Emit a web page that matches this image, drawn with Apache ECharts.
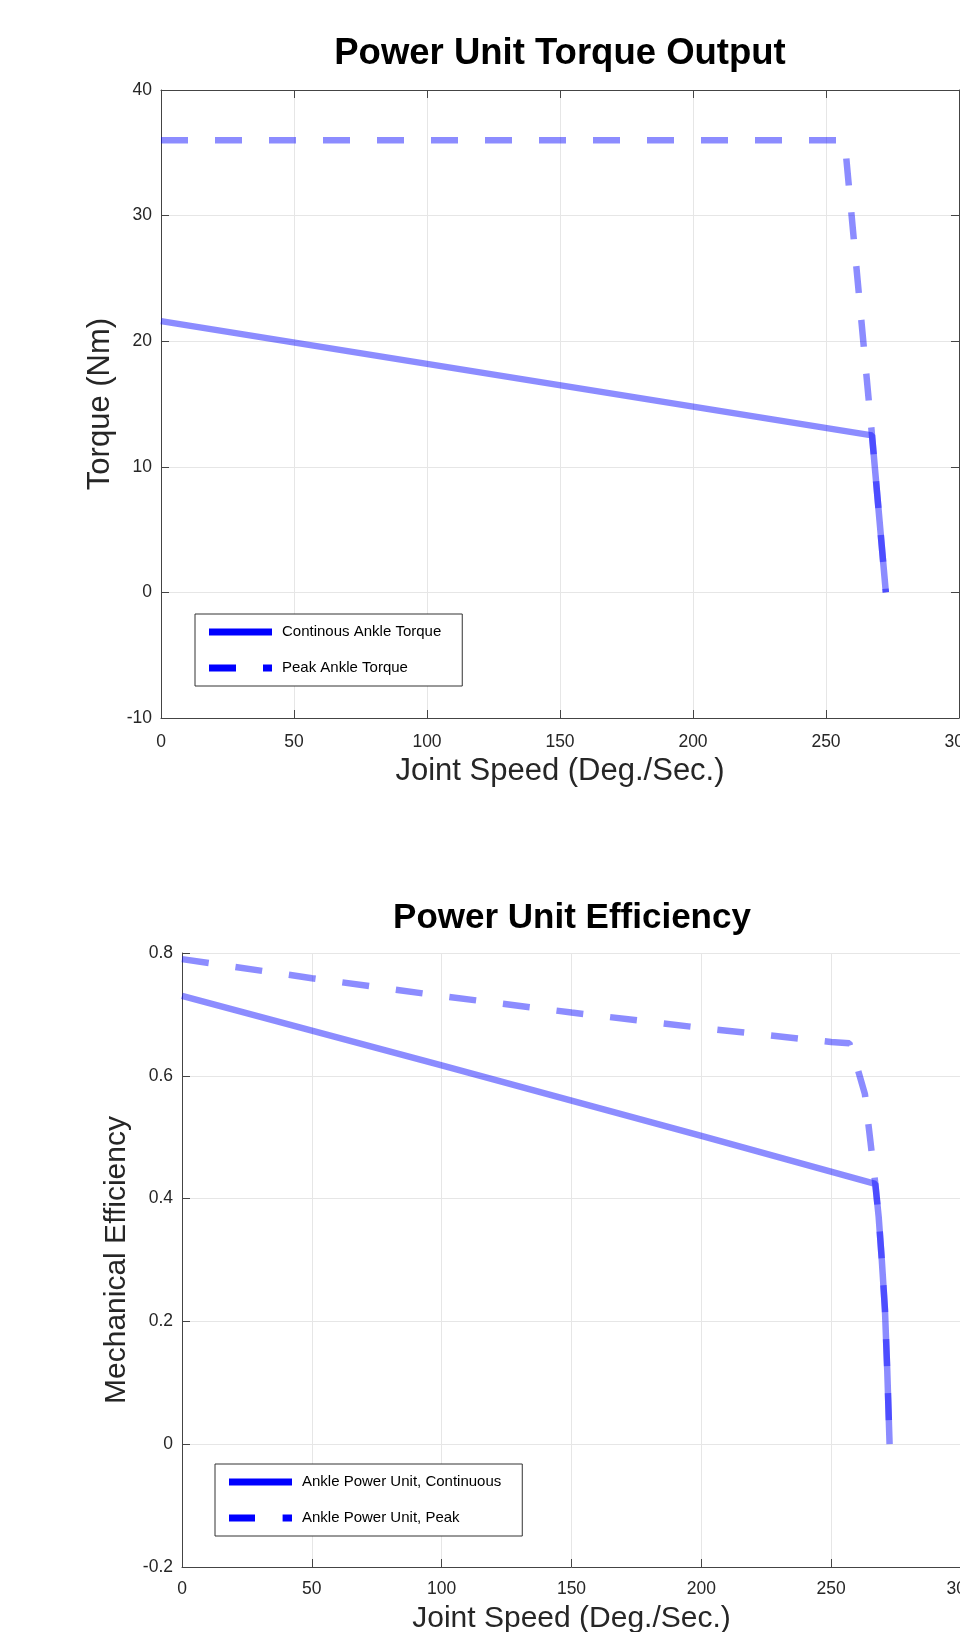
<!DOCTYPE html>
<html>
<head>
<meta charset="utf-8">
<script src="https://cdn.jsdelivr.net/npm/echarts@6/dist/echarts.min.js"></script>
<style>
  html, body { margin: 0; padding: 0; background: #fff; overflow: hidden; }
  #chart { width: 960px; height: 1632px; }
</style>
</head>
<body>
<div id="chart"></div>
<script>
// torque plot
var contTorqueSpeed = [0, 267.3, 272.5];
var contTorque = [21.6, 12.5, 0];
var peakTorqueSpeed = [0, 257, 267.3, 272.5];
var peakTorque = [36, 36, 12.5, 0];

// efficiency plot
var contEffSpeed = [0, 100, 200, 267, 268.3, 269.5, 270.7, 271.6, 272.5];
var contEff = [0.73, 0.617, 0.502, 0.424, 0.37, 0.3, 0.22, 0.12, 0];
var peakEffSpeed = [0, 50, 100, 150, 200, 250, 257, 259.8, 263, 265.2, 267, 268.3, 269.5, 270.7, 271.6, 272.5];
var peakEff = [0.79, 0.759, 0.73, 0.703, 0.678, 0.655, 0.653, 0.617, 0.57, 0.49, 0.424, 0.37, 0.3, 0.22, 0.12, 0];

var seriesNames = ['Continous Ankle Torque', 'Peak Ankle Torque', 'Ankle Power Unit, Continuous', 'Ankle Power Unit, Peak'];

var FONT = '"Liberation Sans", Arial, Helvetica, sans-serif';
var LINE = 'rgba(0,0,255,0.45)';
var AXIS = '#444';
var GRIDLINE = '#e6e6e6';

function pairs(xs, ys) {
    return xs.map((x, i) => [x, ys[i]]);
}

function mainX(gridIndex, labelMargin, nameGap, nameSize) {
    return {
        type: 'value', gridIndex: gridIndex, min: 0, max: 300, interval: 50,
        name: 'Joint Speed (Deg./Sec.)', nameLocation: 'middle', nameGap: nameGap,
        nameTextStyle: { fontFamily: FONT, fontSize: nameSize, color: '#262626' },
        axisLine: { show: true, onZero: false, lineStyle: { color: AXIS, width: 1 } },
        axisTick: { show: true, inside: true, length: 8, lineStyle: { color: AXIS } },
        axisLabel: { fontFamily: FONT, fontSize: 17.5, color: '#262626', margin: labelMargin },
        splitLine: { show: true, lineStyle: { color: GRIDLINE, width: 1 } }
    };
}

function mainY(gridIndex, min, max, interval, name, nameGap, nameSize, fmt) {
    return {
        type: 'value', gridIndex: gridIndex, min: min, max: max, interval: interval,
        name: name, nameLocation: 'middle', nameGap: nameGap,
        nameTextStyle: { fontFamily: FONT, fontSize: nameSize, color: '#262626' },
        axisLine: { show: true, onZero: false, lineStyle: { color: AXIS, width: 1 } },
        axisTick: { show: true, inside: true, length: 8, lineStyle: { color: AXIS } },
        axisLabel: { fontFamily: FONT, fontSize: 17.5, color: '#262626', margin: 9, formatter: fmt },
        splitLine: { show: true, lineStyle: { color: GRIDLINE, width: 1 } }
    };
}

// box edges with ticks (top / right) for the first plot
function mirrorAxis(pos, min, max, interval) {
    return {
        type: 'value', gridIndex: 0, position: pos, min: min, max: max, interval: interval,
        axisLine: { show: true, onZero: false, lineStyle: { color: AXIS, width: 1 } },
        axisTick: { show: true, inside: true, length: 8, lineStyle: { color: AXIS } },
        axisLabel: { show: false },
        splitLine: { show: false }
    };
}

function legendBox(left, top, names, dash) {
    return {
        left: left, top: top, orient: 'vertical',
        selectedMode: false,
        backgroundColor: '#fff', borderColor: '#333', borderWidth: 1, borderRadius: 0,
        padding: [10.5, 21, 10.5, 10.5],
        itemWidth: 63, itemHeight: 14, itemGap: 21,
        textStyle: { fontFamily: FONT, fontSize: 15, color: '#000', padding: [0, 0, 0, 5] },
        itemStyle: { opacity: 0, borderWidth: 0 },
        lineStyle: { width: 7, color: '#0000ff', opacity: 1, type: 'solid', cap: 'butt' },
        data: [
            { name: names[0] },
            { name: names[1], lineStyle: { type: dash } }
        ]
    };
}

function lineSeries(name, xi, yi, data, dashed) {
    return {
        name: name, type: 'line', xAxisIndex: xi, yAxisIndex: yi,
        data: data, symbol: 'none', showSymbol: false, silent: true, animation: false,
        lineStyle: { color: LINE, width: 6.5, type: dashed ? [27, 27] : 'solid', cap: 'butt' },
        itemStyle: { color: LINE }
    };
}

var chart = echarts.init(document.getElementById('chart'));
chart.setOption({
    backgroundColor: '#fff',
    animation: false,
    title: [
        { text: 'Power Unit Torque Output', left: 560, top: 35, padding: 0, textAlign: 'center',
          textStyle: { fontFamily: FONT, fontSize: 36.5, fontWeight: 'bold', color: '#000' } },
        { text: 'Power Unit Efficiency', left: 572, top: 901, padding: 0, textAlign: 'center',
          textStyle: { fontFamily: FONT, fontSize: 35, fontWeight: 'bold', color: '#000' } }
    ],
    grid: [
        { left: 161, top: 90, width: 798, height: 628, containLabel: false, outerBoundsMode: 'none' },
        { left: 182, top: 953, width: 779, height: 614, containLabel: false, outerBoundsMode: 'none' }
    ],
    xAxis: [
        mainX(0, 15, 38, 31),
        mainX(1, 13, 37, 30),
        mirrorAxis('top', 0, 300, 50)
    ],
    yAxis: [
        mainY(0, -10, 40, 10, 'Torque (Nm)', 45, 31, null),
        mainY(1, -0.2, 0.8, 0.2, 'Mechanical Efficiency', 47, 30, function (v) {
            return Math.abs(v) < 1e-9 ? '0' : v.toFixed(1);
        }),
        mirrorAxis('right', -10, 40, 10)
    ],
    legend: [
        legendBox(195, 614, seriesNames.slice(0, 2), [27, 27]),
        legendBox(215, 1464, seriesNames.slice(2, 4), [26, 27.6])
    ],
    series: [
        lineSeries(seriesNames[0], 0, 0, pairs(contTorqueSpeed, contTorque), false),
        lineSeries(seriesNames[1], 0, 0, pairs(peakTorqueSpeed, peakTorque), true),
        lineSeries(seriesNames[2], 1, 1, pairs(contEffSpeed, contEff), false),
        lineSeries(seriesNames[3], 1, 1, pairs(peakEffSpeed, peakEff), true)
    ]
});
</script>
</body>
</html>
